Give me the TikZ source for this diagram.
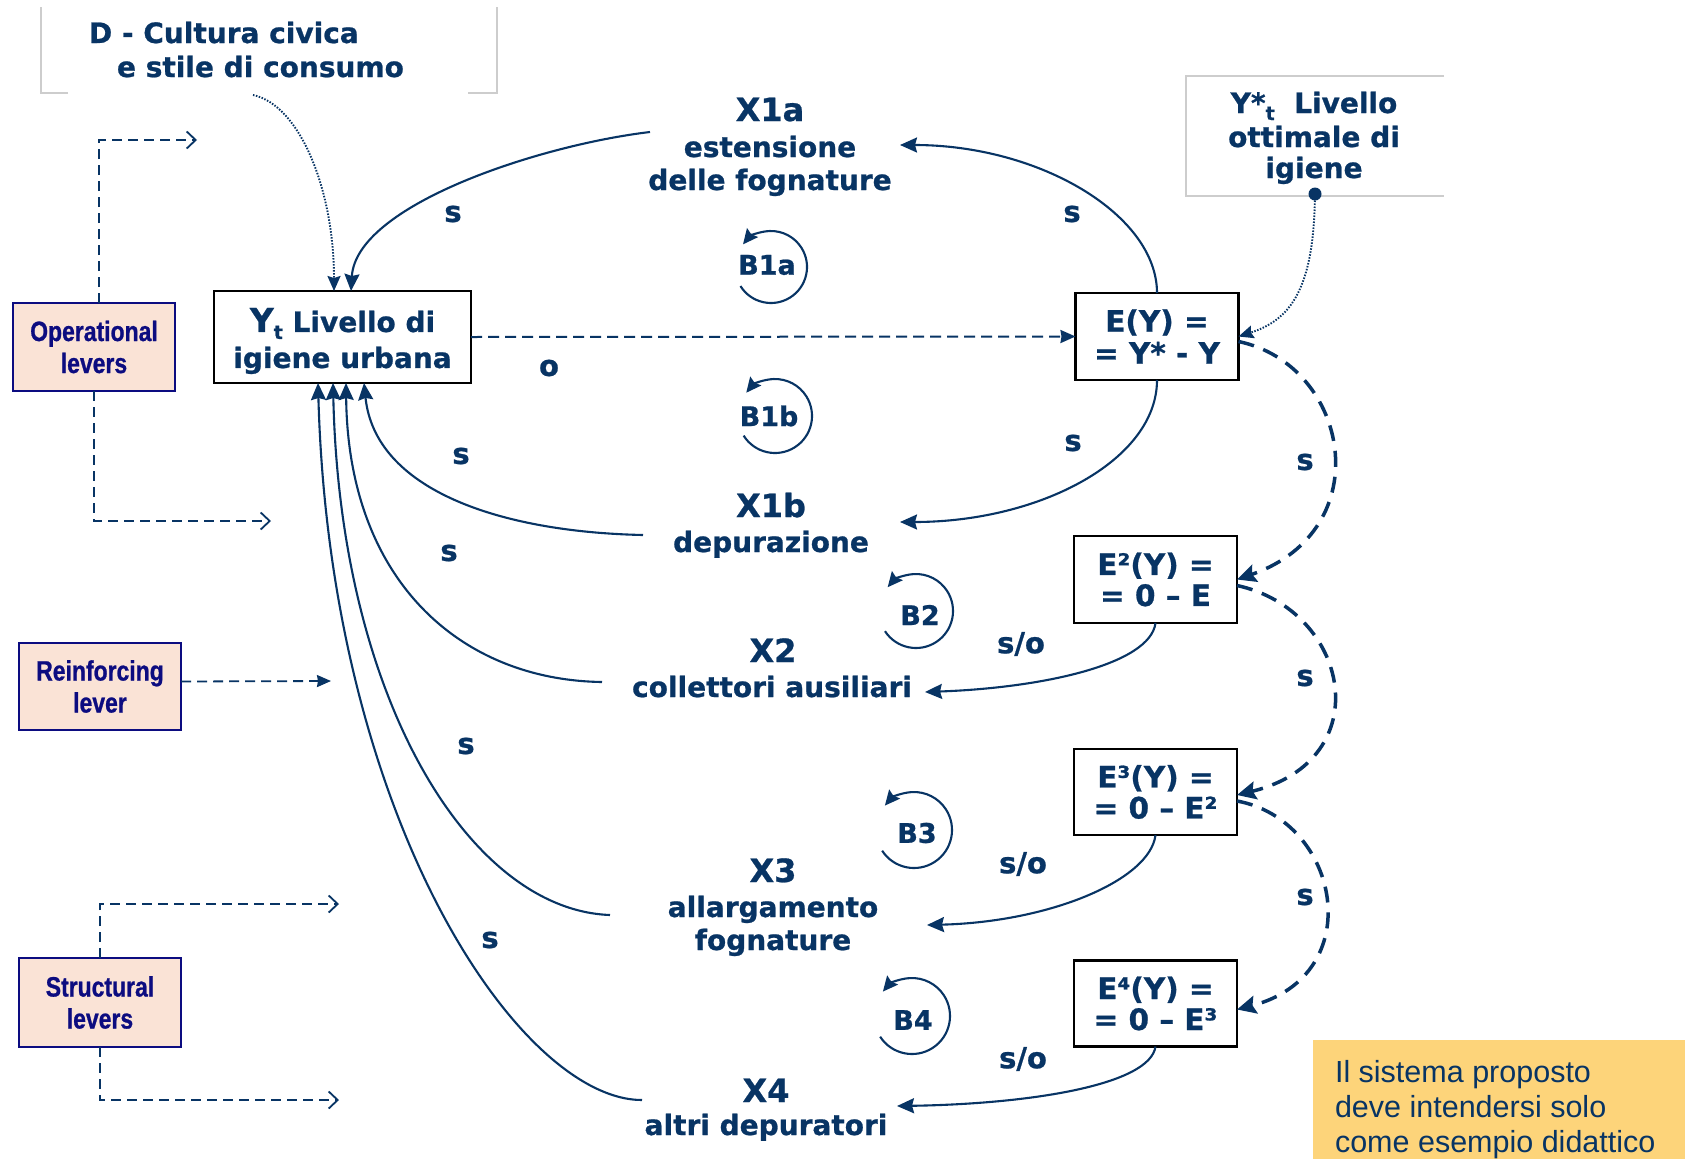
\documentclass[tikz,border=0pt]{standalone}
\usepackage{fontspec}
\setmainfont{DejaVu Sans}[BoldFeatures={FakeBold=0.8}]
\newfontfamily\leverfont[FakeStretch=0.82,BoldFeatures={FakeBold=0.8}]{Liberation Sans}
\newfontfamily\notefont{Liberation Sans}
\usetikzlibrary{arrows.meta,calc}
\definecolor{navy}{RGB}{8,52,100}
\definecolor{levertext}{RGB}{12,12,128}
\definecolor{leverfill}{RGB}{250,227,214}
\definecolor{notefill}{RGB}{253,212,122}
\definecolor{framegray}{RGB}{205,205,205}
\begin{document}
\begin{tikzpicture}[x=1pt,y=-1pt,
  every node/.style={inner sep=0pt,outer sep=0pt},
  txt/.style={text=navy,font=\bfseries\fontsize{28}{33}\selectfont,anchor=base},
  xhead/.style={text=navy,font=\bfseries\fontsize{32}{36}\selectfont,anchor=base},
  sign/.style={text=navy,font=\bfseries\fontsize{29}{33}\selectfont},
  loopname/.style={text=navy,font=\bfseries\fontsize{27}{30}\selectfont},
  eqbox/.style={draw=black,line width=2.5pt,fill=white,text=navy,align=center,
    font=\bfseries\fontsize{29.5}{31}\selectfont,minimum width=163pt},
  leverbox/.style={draw=levertext,line width=1.8pt,fill=leverfill,text=levertext,align=center,
    font=\leverfont\bfseries\fontsize{28}{32}\selectfont,minimum width=162pt},
  notetxt/.style={text=navy,font=\notefont\fontsize{30.5}{35}\selectfont,anchor=base west},
  flowline/.style={draw=navy,line width=2.1pt,-{Stealth[length=17pt,width=15pt,inset=2pt]}},
  loopline/.style={draw=navy,line width=2.1pt,-{Stealth[length=15pt,width=14pt,inset=2pt]}},
  errline/.style={draw=navy,line width=3.5pt,dash pattern=on 16pt off 10pt,
    -{Stealth[length=19pt,width=18pt,inset=3pt]}},
  gapline/.style={draw=navy,line width=2pt,dash pattern=on 11pt off 6pt,
    -{Stealth[length=15pt,width=13pt,inset=1pt]}},
  dotline/.style={draw=navy,line width=1.9pt,dash pattern=on 1.5pt off 1.5pt,
    -{Stealth[length=15pt,width=13pt,inset=2pt]}},
  leverline/.style={draw=navy,line width=1.8pt,dash pattern=on 10pt off 6pt,
    -{Straight Barb[length=9pt,width=17pt,line width=1.8pt]}},
  leverfilled/.style={draw=navy,line width=1.8pt,dash pattern=on 10pt off 6pt,
    -{Stealth[length=14pt,width=12pt,inset=1pt]}},
]
\fill[white] (0,0) rectangle (1685,1159);
\useasboundingbox (0,0) rectangle (1685,1159);

% external driver: civic culture
\draw[framegray,line width=1.2pt] (68,93) -| (41,7);
\draw[framegray,line width=1.2pt] (468,93) -| (497,7);
\node[txt,anchor=base west] (d1) at (89,43) {D - Cultura civica};
\node[txt,anchor=base west] (d2) at (117,77) {e stile di consumo};
\coordinate (dout) at (253,95);

% target level
\draw[framegray,line width=1.2pt] (1444,76) -| (1186,196) -- (1444,196);
\node[txt] (ys1) at (1314,113) {Y*\raisebox{-7pt}{\fontsize{19}{19}\selectfont t}\ \ Livello};
\node[txt] (ys2) at (1314,147) {ottimale di};
\node[txt] (ys3) at (1314,178) {igiene};
\node[circle,fill=navy,minimum size=13pt] (ysdot) at (1315,194) {};

% state and error boxes
\node[eqbox,minimum width=257pt,minimum height=92pt,font=\bfseries\fontsize{28}{36}\selectfont] (yt) at (342.5,337)
  {\rule{0pt}{32pt}{\fontsize{33}{33}\selectfont Y}\raisebox{-7pt}{\fontsize{19}{19}\selectfont t} Livello di\\igiene urbana};
\node[eqbox,minimum height=87pt,font=\bfseries\fontsize{29.5}{32}\selectfont] (ey) at (1157,336.5) {E(Y) =\\= Y* - Y};
\node[eqbox,minimum height=87pt] (e2) at (1155.5,579.5) {E²(Y) =\\= 0 – E};
\node[eqbox,minimum height=86pt] (e3) at (1155.5,792) {E³(Y) =\\= 0 – E²};
\node[eqbox,minimum height=86pt] (e4) at (1155.5,1003.5) {E⁴(Y) =\\= 0 – E³};

% actions
\node[xhead] (x1a) at (770,121) {X1a};
\node[txt] (x1a1) at (770,157) {estensione};
\node[txt] (x1a2) at (770,190) {delle fognature};
\node[xhead] (x1b) at (771,517) {X1b};
\node[txt] (x1b1) at (771,552) {depurazione};
\node[xhead] (x2) at (773,662) {X2};
\node[txt] (x2a) at (772,697) {collettori ausiliari};
\node[xhead] (x3) at (773,882) {X3};
\node[txt] (x3a) at (773,917) {allargamento};
\node[txt] (x3b) at (773,950) {fognature};
\node[xhead] (x4) at (766,1102) {X4};
\node[txt] (x4a) at (766,1135) {altri depuratori};

\coordinate (x1a-w) at (650,132);  \coordinate (x1a-e) at (900,145);
\coordinate (x1b-w) at (643,535);  \coordinate (x1b-e) at (900,522);
\coordinate (x2-w) at (602,682);   \coordinate (x2-e) at (925,692);
\coordinate (x3-w) at (610,915);   \coordinate (x3-e) at (927,925);
\coordinate (x4-w) at (642,1100);  \coordinate (x4-e) at (897,1106);

% causal links
\draw[flowline] (ey.north) .. controls (1157,215) and (1040,145) .. (x1a-e);
\draw[flowline] (x1a-w) .. controls (540,145) and (356,205) .. ($(yt.north)+(8.5,0)$);
\draw[dotline] (dout) .. controls (300,105) and (334,190) .. ($(yt.north)+(-8.5,0)$);
\draw[flowline] (ey.south) .. controls (1157,460) and (1040,522) .. (x1b-e);
\draw[flowline] (x1b-w) .. controls (500,532) and (375,490) .. ($(yt.south)+(21.5,0)$);
\draw[flowline] (x2-w) .. controls (460,680) and (348,580) .. ($(yt.south)+(3.5,0)$);
\draw[flowline] (x3-w) .. controls (470,910) and (340,700) .. ($(yt.south)+(-9.5,0)$);
\draw[flowline] (x4-w) .. controls (520,1100) and (330,820) .. ($(yt.south)+(-24.5,0)$);
\draw[flowline] (e2.south) .. controls (1150,665) and (1040,688) .. (x2-e);
\draw[flowline] (e3.south) .. controls (1150,880) and (1050,922) .. (x3-e);
\draw[flowline] (e4.south) .. controls (1150,1085) and (1030,1104) .. (x4-e);

\draw[gapline] (yt.east) -- (ey.west);
\draw[dotline] (ysdot) .. controls (1313,290) and (1290,320) .. (ey.east);

% error cascade
\draw[errline] ($(ey.east)+(0,5)$) .. controls (1350,365) and (1380,530) .. (e2.east);
\draw[errline] ($(e2.east)+(0,6)$) .. controls (1350,610) and (1380,760) .. ($(e3.east)+(0,3)$);
\draw[errline] ($(e3.east)+(0,9)$) .. controls (1340,820) and (1370,975) .. ($(e4.east)+(0,6)$);

% polarity labels
\node[sign] (s1) at (453,214) {s};
\node[sign] (s2) at (1072,214) {s};
\node[sign] (o1) at (549,368) {o};
\node[sign] (s3) at (1073,443) {s};
\node[sign] (s4) at (461,456) {s};
\node[sign] (s5) at (449,553) {s};
\node[sign] (s6) at (466,746) {s};
\node[sign] (s7) at (490,940) {s};
\node[sign] (so2) at (1021,644) {s/o};
\node[sign] (so3) at (1023,864) {s/o};
\node[sign] (so4) at (1023,1059) {s/o};
\node[sign] (r1) at (1305,462) {s};
\node[sign] (r2) at (1305,678) {s};
\node[sign] (r3) at (1305,897) {s};

% balancing loops
\node[loopname] (b1a) at (767,265) {B1a};
\draw[loopline] ($(b1a)+(4,2)+(148:36)$) arc[start angle=148,end angle=-141,radius=36];
\node[loopname] (b1b) at (769,416) {B1b};
\draw[loopline] ($(b1b)+(6,0)+(148:37)$) arc[start angle=148,end angle=-141,radius=37];
\node[loopname] (b2) at (920,615) {B2};
\draw[loopline] ($(b2)+(-4,-4)+(147:37)$) arc[start angle=147,end angle=-140,radius=37];
\node[loopname] (b3) at (917,833) {B3};
\draw[loopline] ($(b3)+(-3,-3)+(147:38)$) arc[start angle=147,end angle=-140,radius=38];
\node[loopname] (b4) at (913,1020) {B4};
\draw[loopline] ($(b4)+(-1,-4)+(147:38)$) arc[start angle=147,end angle=-140,radius=38];

% levers
\node[leverbox,minimum height=88pt] (op) at (94,347) {Operational\\levers};
\node[leverbox,minimum height=87pt] (rf) at (100,686.5) {Reinforcing\\lever};
\node[leverbox,minimum height=89pt] (st) at (100,1002.5) {Structural\\levers};
\coordinate (op-up) at (197,140);
\coordinate (op-dn) at (271,521);
\coordinate (rf-to) at (331,681);
\coordinate (st-up) at (339,904);
\coordinate (st-dn) at (339,1100);
\draw[leverline] ($(op.north)+(5,0)$) |- (op-up);
\draw[leverline] (op.south) |- (op-dn);
\draw[leverfilled] ($(rf.east)+(0,-5)$) -- (rf-to);
\draw[leverline] (st.north) |- (st-up);
\draw[leverline] (st.south) |- (st-dn);

% note
\fill[notefill] (1313,1040) rectangle (1685,1159);
\node[notetxt] (n1) at (1335,1082) {Il sistema proposto};
\node[notetxt] (n2) at (1335,1117) {deve intendersi solo};
\node[notetxt] (n3) at (1335,1152) {come esempio didattico};
\end{tikzpicture}
\end{document}
